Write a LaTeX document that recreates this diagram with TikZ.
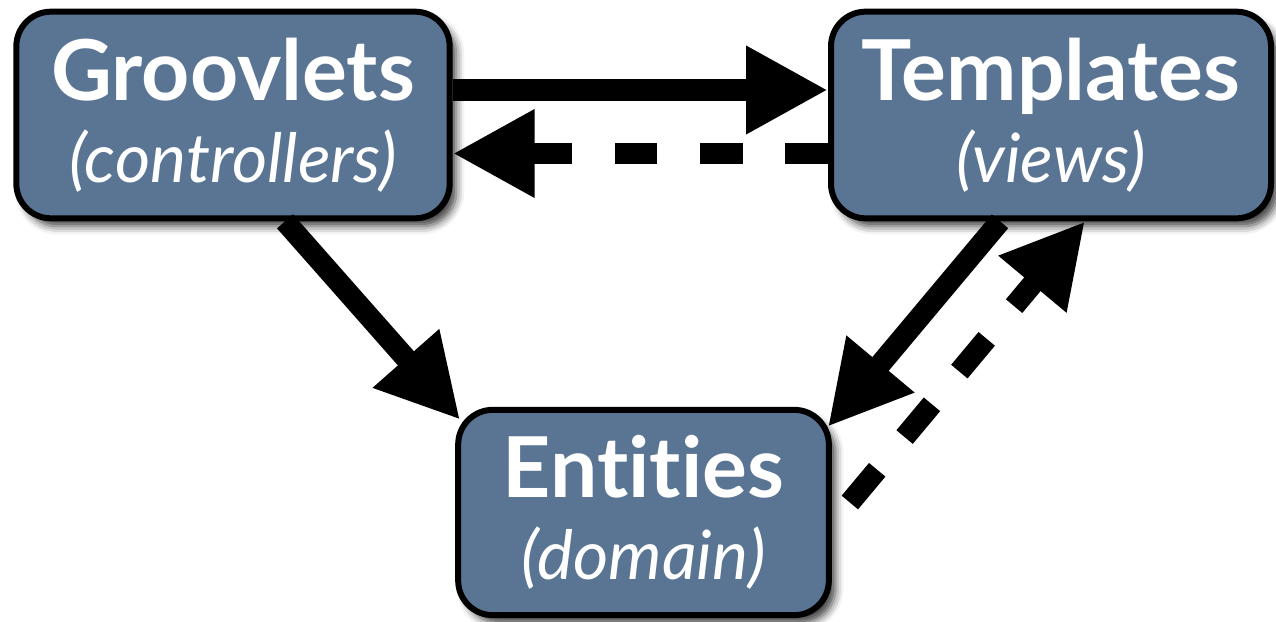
\documentclass[tikz,border=0pt]{standalone}
\usepackage{fontspec}
\setmainfont{Lato}[Ligatures={NoCommon,NoContextual}]
\usepackage{tikz}
\usetikzlibrary{arrows.meta,shadows.blur}

\definecolor{boxblue}{RGB}{90,117,147}
% bold name on top, role in italics below
\newcommand{\boxtitle}[2]{{\fontsize{63}{61.5}\selectfont\bfseries #1}\\{\itshape (#2)}}

\begin{document}
\begin{tikzpicture}[x=0.75pt,y=-0.75pt,
  unit/.style={draw,line width=4.5pt,fill=boxblue,rounded corners=26pt,
    minimum height=155pt,text=white,align=center,
    font=\fontsize{51}{61.5}\selectfont,
    blur shadow={shadow xshift=5pt,shadow yshift=-6pt,shadow blur radius=6pt,shadow opacity=75}},
  link/.style={line width=16pt,-{Triangle[length=61.5pt,width=62pt]}},
  back/.style={link,dash pattern=on 32pt off 32pt}]
\useasboundingbox (0,0) rectangle (1276,621);
\node[unit,minimum width=325pt] (G) at (233,115) {\boxtitle{Groovlets}{controllers}};
\node[unit,minimum width=330pt] (T) at (1051,115) {\boxtitle{Templates}{views}};
\node[unit,minimum width=278pt,minimum height=154pt] (E) at (643.5,512.5) {\boxtitle{Entities}{domain}};
% top pair
\draw[link] ([shift={(0,-25)}]G.east) -- ([shift={(0,-25)}]T.west);
\draw[back] ([shift={(0,38.5)}]T.west) -- ([shift={(0,38.5)}]G.east);
% down to the entities
\draw[link] ([shift={(52,0)}]G.south) -- ([shift={(5,13)}]E.north west);
\draw[link] ([shift={(-51,0)}]T.south) -- ([shift={(-4,20)}]E.north east);
\draw[back] ([shift={(18,-10)}]E.east) -- ([shift={(34,0)}]T.south);
\end{tikzpicture}
\end{document}
